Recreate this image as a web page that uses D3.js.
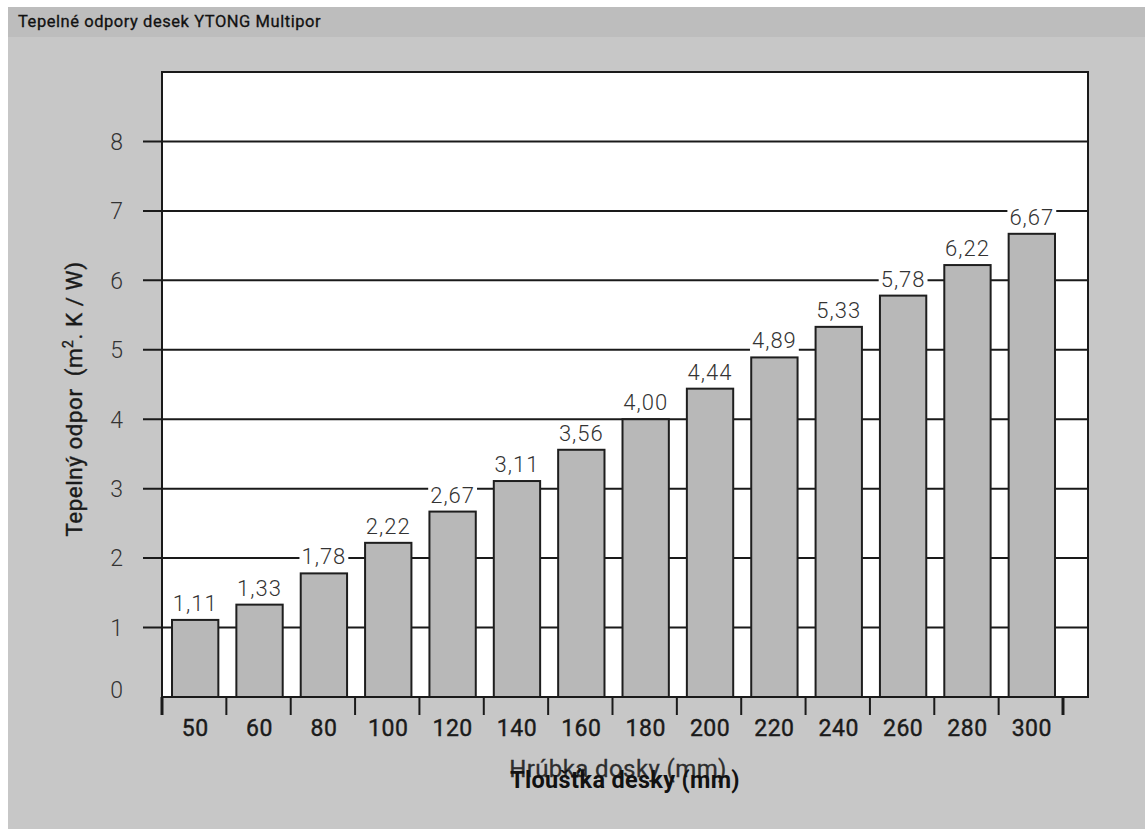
<!DOCTYPE html>
<html>
<head>
<meta charset="utf-8">
<script src="https://cdn.jsdelivr.net/npm/d3@7"></script>
<style>
  html, body { margin: 0; padding: 0; background: #ffffff; }
  svg { display: block; }
  text { font-family: Roboto, "Noto Sans", sans-serif; white-space: pre; }
</style>
</head>
<body>
<svg id="chart" width="1145" height="829"></svg>
<script>
// Board thickness (mm) and thermal resistance (m².K/W)
const thickness = ["50", "60", "80", "100", "120", "140", "160", "180", "200", "220", "240", "260", "280", "300"];
const resistance = [1.11, 1.33, 1.78, 2.22, 2.67, 3.11, 3.56, 4.00, 4.44, 4.89, 5.33, 5.78, 6.22, 6.67];
const yTicks = [0, 1, 2, 3, 4, 5, 6, 7, 8];

const titleText = "Tepelné odpory desek YTONG Multipor";
const yTitle = "Tepelný odpor  (m";
const yTitleTail = ". K / W)";
const xTitleSk = "Hrúbka dosky (mm)";
const xTitleCz = "Tloušťka desky (mm)";

const svg = d3.select("#chart");
const W = 1145, H = 829;

// Panel backgrounds
svg.append("rect").attr("x", 8).attr("y", 7).attr("width", W - 8).attr("height", H - 7).attr("fill", "#c7c7c7");
svg.append("rect").attr("x", 8).attr("y", 7).attr("width", W - 8).attr("height", 30).attr("fill", "#bdbdbd");
svg.append("text").attr("x", 18).attr("y", 27)
  .attr("font-size", 16.5).attr("font-weight", 400).attr("fill", "#111")
  .attr("stroke", "#111").attr("stroke-width", 0.3)
  .attr("letter-spacing", 0.55)
  .text(titleText);

// Plot frame
const plot = { left: 162, right: 1088, top: 72, bottom: 697 };
const binEnd = 1063;

const y = d3.scaleLinear().domain([0, 9]).range([plot.bottom, plot.top]);
const x = d3.scaleBand().domain(thickness).range([plot.left, binEnd]).paddingInner(0).paddingOuter(0);

svg.append("rect")
  .attr("x", plot.left).attr("y", plot.top)
  .attr("width", plot.right - plot.left).attr("height", plot.bottom - plot.top)
  .attr("fill", "#ffffff");

// Horizontal gridlines with outside ticks
const grid = svg.append("g");
grid.selectAll("line").data(yTicks.filter(d => d > 0)).join("line")
  .attr("x1", 143).attr("x2", plot.right)
  .attr("y1", d => y(d)).attr("y2", d => y(d))
  .attr("stroke", "#1a1a1a").attr("stroke-width", 2);

// Y tick labels
svg.append("g").selectAll("text").data(yTicks).join("text")
  .attr("x", 123)
  .attr("y", d => y(d))
  .attr("dy", d => d === 0 ? "0.05em" : "0.36em")
  .attr("text-anchor", "end")
  .attr("font-size", 23).attr("font-weight", 300).attr("fill", "#333")
  .text(d => d);

// Bars
const barW = x.bandwidth() * 0.72;
svg.append("g").selectAll("rect").data(resistance).join("rect")
  .attr("x", (d, i) => x(thickness[i]) + x.bandwidth() / 2 - barW / 2 + 1)
  .attr("y", d => y(d))
  .attr("width", barW)
  .attr("height", d => y(0) - y(d))
  .attr("fill", "#b8b8b8")
  .attr("stroke", "#1e1e1e").attr("stroke-width", 2);

// Value labels with white backing
const fmt = d => d.toFixed(2).replace(".", ",");
const labels = svg.append("g");
resistance.forEach((d, i) => {
  const cx = x(thickness[i]) + x.bandwidth() / 2 + 1;
  const t = labels.append("text")
    .attr("x", cx).attr("y", y(d) - 9)
    .attr("text-anchor", "middle")
    .attr("font-size", 22).attr("font-weight", 300).attr("fill", "#333")
    .attr("letter-spacing", 1)
    .text(fmt(d));
  const bb = t.node().getBBox();
  labels.insert("rect", () => t.node())
    .attr("x", bb.x - 2).attr("y", bb.y + 4)
    .attr("width", bb.width + 4).attr("height", bb.height - 6)
    .attr("fill", "#ffffff");
});

// Frame border
svg.append("rect")
  .attr("x", plot.left).attr("y", plot.top)
  .attr("width", plot.right - plot.left).attr("height", plot.bottom - plot.top)
  .attr("fill", "none").attr("stroke", "#1a1a1a").attr("stroke-width", 2);

// X category boundary ticks
const bounds = thickness.map(c => x(c)).concat([binEnd]);
svg.append("g").selectAll("line").data(bounds).join("line")
  .attr("x1", d => d).attr("x2", d => d)
  .attr("y1", plot.bottom).attr("y2", 715)
  .attr("stroke", "#1a1a1a")
  .attr("stroke-width", (d, i) => (i === 0 || i === bounds.length - 1) ? 3 : 2);

// X tick labels
svg.append("g").selectAll("text").data(thickness).join("text")
  .attr("x", d => x(d) + x.bandwidth() / 2 + 1)
  .attr("y", 736)
  .attr("text-anchor", "middle")
  .attr("font-size", 23).attr("font-weight", 400).attr("fill", "#1a1a1a")
  .attr("stroke", "#1a1a1a").attr("stroke-width", 0.4)
  .attr("letter-spacing", 0.5)
  .text(d => d);

// Axis titles
const yt = svg.append("text")
  .attr("transform", "translate(82,399) rotate(-90)")
  .attr("text-anchor", "middle")
  .attr("font-size", 22.5).attr("font-weight", 400).attr("fill", "#1a1a1a")
  .attr("stroke", "#1a1a1a").attr("stroke-width", 0.4)
  .attr("letter-spacing", 0.5);
yt.append("tspan").text(yTitle);
yt.append("tspan").attr("dy", -9).attr("font-size", 14).text("2");
yt.append("tspan").attr("dy", 9).text(yTitleTail);

svg.append("text")
  .attr("x", 618).attr("y", 777)
  .attr("text-anchor", "middle")
  .attr("font-size", 24).attr("font-weight", 400).attr("fill", "#2e2e2e")
  .attr("stroke", "#2e2e2e").attr("stroke-width", 0.3)
  .attr("letter-spacing", 0.4)
  .text(xTitleSk);
svg.append("text")
  .attr("x", 625).attr("y", 788)
  .attr("text-anchor", "middle")
  .attr("font-size", 23.5).attr("font-weight", 700).attr("fill", "#111")
  .attr("letter-spacing", 0.3)
  .text(xTitleCz);
</script>
</body>
</html>
